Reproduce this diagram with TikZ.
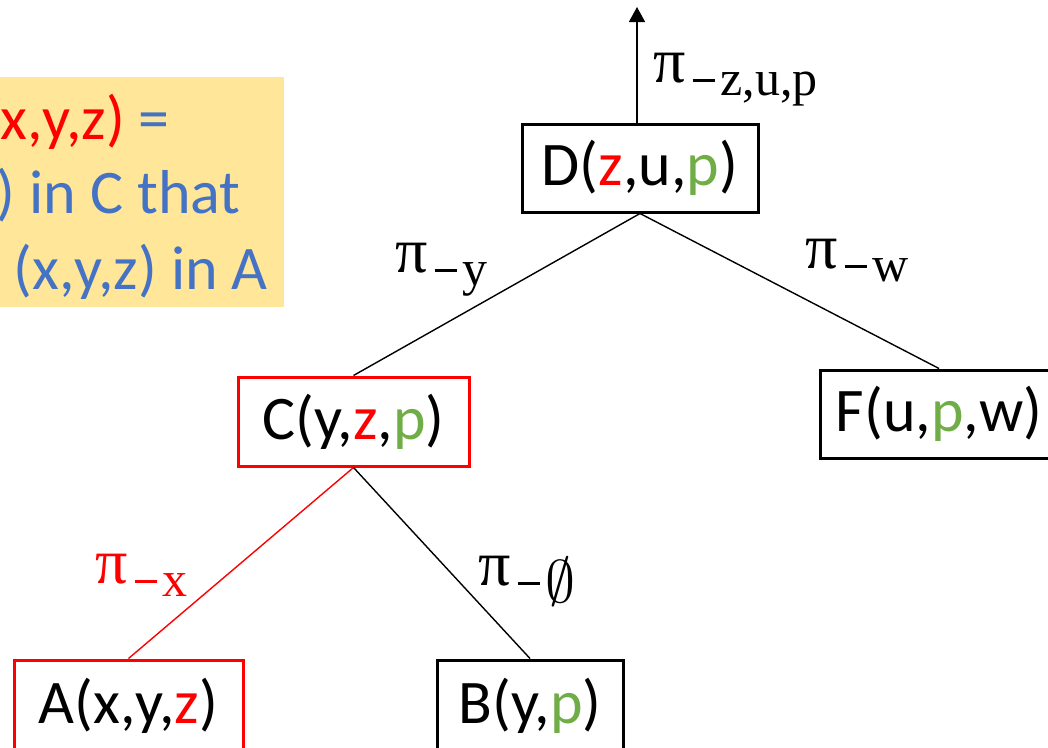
\RequirePackage{fix-cm}
\documentclass[tikz,border=0pt]{standalone}
\usepackage{fontspec}
\setmainfont{Carlito}
\newfontfamily\serifl{Liberation Serif}
\usetikzlibrary{arrows.meta}
\definecolor{myred}{HTML}{FF0000}
\definecolor{mygreen}{HTML}{70AD47}
\definecolor{myblue}{HTML}{4472C4}
\definecolor{myyellow}{HTML}{FFE699}
\newcommand\bigfont{\fontsize{62}{75}\selectfont}
\newcommand\pilabel[1]{{\serifl\fontsize{64}{64}\selectfont π\kern7pt\raisebox{-13pt}{\fontsize{50}{50}\selectfont\rule[13pt]{22pt}{2.6pt}\kern6pt#1}}}
\tikzset{
  box/.style={draw, line width=3pt, inner sep=0pt, font=\bigfont},
  redbox/.style={box, draw=myred},
  conn/.style={line width=1.4pt},
  lbl/.style={anchor=base west, inner sep=0pt},
  note/.style={anchor=base east, inner sep=0pt, text=myblue, font=\bigfont}
}
\begin{document}
\begin{tikzpicture}[x=1pt,y=-1pt]
\useasboundingbox (0,0) rectangle (1048,747);
\clip (0,0) rectangle (1048,747);
% note box
\node[fill=myyellow, minimum width=294pt, minimum height=230pt, inner sep=0pt] (Y) at (137,192) {};
\node[note] (l1) at (170,139) {\textcolor{myred}{x,y,z)} =};
\node[note] (l2) at (241,213) {) in C that};
\node[note] (l3) at (268,289) {(x,y,z) in A};
% tree nodes
\node[box, minimum width=236pt, minimum height=88pt] (D) at (640,168) {D(\textcolor{myred}{z},u,\textcolor{mygreen}{p})};
\node[redbox, minimum width=231pt, minimum height=89pt] (C) at (353.5,421.5) {C(y,\textcolor{myred}{z},\textcolor{mygreen}{p})};
\node[box, minimum width=238pt, minimum height=88pt] (F) at (939,414) {F(u,\textcolor{mygreen}{p},w)};
\node[redbox, minimum width=229pt, minimum height=92pt] (A) at (128.5,706) {A(x,y,\textcolor{myred}{z})};
\node[box, minimum width=186pt, minimum height=92pt] (B) at (530,706) {B(y,\textcolor{mygreen}{p})};
% connectors
\coordinate (T) at (637,7);
\draw[conn, -{Triangle[length=15pt,width=16pt]}] (T |- D.north) -- (T);
\draw[conn] (D.south) -- (C.north);
\draw[conn] (D.south) -- (F.north);
\draw[conn, myred] (C.south) -- (A.north);
\draw[conn] (C.south) -- (B.north);
% labels
\node[lbl] (pD) at (653,82) {\pilabel{z,u,p}};
\node[lbl] (pC) at (395,272) {\pilabel{y}};
\node[lbl] (pF) at (805,268) {\pilabel{w}};
\node[lbl, text=myred] (pA) at (95,583) {\pilabel{x}};
\node[lbl] (pB) at (478,585) {\pilabel{\raisebox{-4pt}{\scalebox{1.2}{$\emptyset$}}}};
\end{tikzpicture}
\end{document}
